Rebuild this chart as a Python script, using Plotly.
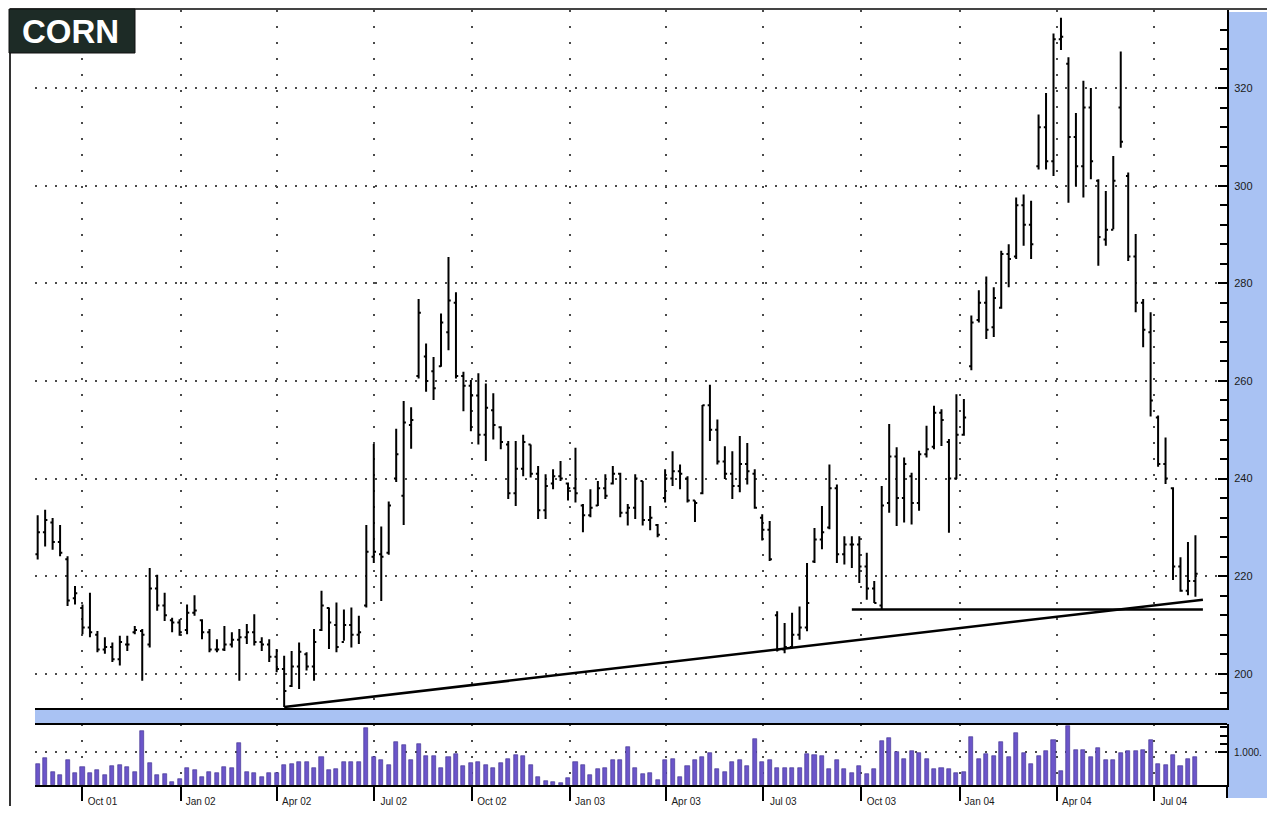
import pandas as pd
import plotly.graph_objects as go

# ---------------- data (weekly corn bars) ----------------
first_week = "2001-08-20"
n_weeks = 156

opens = [224.5, 229.0, 231.0, 227.0, 223.5, 215.5, 213.5, 209.5, 208.0, 205.0,
         205.5, 203.0, 206.0, 208.5, 208.8, 206.0, 217.5, 214.0, 211.0, 210.5,
         209.0, 212.5, 211.0, 208.5, 205.0, 205.0, 206.0, 207.0, 207.5, 208.5,
         206.5, 206.0, 203.5, 201.0, 197.5, 201.5, 204.0, 201.5, 209.0, 213.5,
         210.0, 206.5, 210.0, 208.0, 214.0, 224.0, 224.5, 224.8, 240.0, 236.5,
         251.0, 261.0, 265.0, 262.0, 263.0, 270.0, 276.0, 261.0, 259.0, 257.0,
         249.0, 254.0, 250.5, 247.0, 237.0, 242.0, 247.0, 241.0, 233.5, 239.0,
         240.5, 239.0, 238.0, 234.5, 232.5, 234.5, 238.0, 239.0, 241.0, 233.0,
         234.0, 239.5, 231.5, 230.5, 236.0, 240.0, 241.5, 240.0, 235.5, 237.0,
         255.0, 250.0, 243.5, 241.0, 238.5, 243.0, 241.0, 232.0, 229.5, 212.0,
         205.0, 205.5, 208.0, 209.5, 223.0, 227.5, 230.0, 238.0, 224.5, 226.5,
         226.5, 222.0, 217.5, 214.0, 235.0, 244.5, 236.0, 240.5, 235.0, 245.0,
         246.5, 253.5, 247.5, 240.0, 249.0, 263.0, 272.5, 276.0, 271.0, 275.0,
         286.0, 285.5, 296.0, 292.0, 304.0, 312.0, 305.0, 330.0, 325.0, 310.0,
         304.0, 316.0, 301.0, 289.0, 291.0, 316.0, 302.0, 285.5, 276.0, 270.0,
         252.5, 243.0, 238.0, 222.0, 217.0, 219.0]

highs = [232.5, 233.6, 231.9, 230.5, 224.1, 218.0, 214.2, 216.6, 208.8, 207.5,
         206.4, 207.8, 207.8, 209.8, 209.2, 221.7, 220.3, 216.6, 211.5, 211.2,
         214.2, 216.1, 211.2, 209.2, 207.1, 209.8, 208.5, 209.2, 210.2, 212.2,
         207.5, 207.1, 205.1, 203.7, 204.7, 206.4, 204.4, 209.2, 217.0, 213.6,
         214.6, 213.2, 213.6, 211.9, 230.5, 247.1, 230.2, 235.3, 250.2, 255.9,
         254.6, 276.8, 267.7, 264.9, 273.8, 285.4, 278.2, 261.9, 260.2, 261.6,
         259.5, 257.5, 250.7, 247.7, 247.7, 249.0, 247.0, 242.6, 240.9, 241.9,
         243.6, 239.2, 246.3, 234.8, 237.8, 239.5, 240.9, 242.6, 241.2, 234.8,
         240.9, 239.5, 234.4, 230.7, 241.9, 245.6, 242.9, 240.5, 235.5, 255.1,
         259.2, 252.1, 246.6, 245.6, 248.7, 247.3, 241.9, 232.7, 231.3, 212.8,
         210.4, 212.5, 213.8, 222.7, 229.9, 234.4, 242.9, 238.8, 228.2, 228.2,
         228.2, 224.8, 219.0, 238.5, 251.2, 246.4, 244.3, 241.2, 245.7, 250.8,
         254.9, 254.2, 248.1, 257.3, 256.3, 273.4, 278.6, 281.4, 279.2, 286.7,
         288.0, 297.6, 298.2, 296.9, 314.6, 319.0, 331.2, 334.4, 326.3, 314.9,
         321.5, 320.0, 301.3, 298.9, 306.1, 327.5, 302.7, 290.1, 276.8, 274.1,
         252.9, 248.4, 238.2, 223.9, 227.0, 228.4]

lows = [223.4, 226.1, 225.4, 224.1, 213.9, 214.2, 208.1, 207.5, 204.4, 204.1,
        202.4, 201.7, 204.7, 208.1, 198.6, 205.4, 212.9, 210.8, 208.5, 207.8,
        208.1, 211.9, 207.1, 204.4, 204.4, 204.7, 205.4, 198.6, 206.1, 205.8,
        204.7, 202.4, 200.3, 193.2, 197.3, 196.9, 200.7, 198.6, 208.8, 205.1,
        204.4, 206.8, 205.4, 206.1, 213.6, 222.7, 214.9, 224.4, 239.3, 230.5,
        246.1, 260.5, 257.8, 256.1, 262.9, 266.3, 260.5, 253.8, 249.7, 247.0,
        243.6, 248.0, 246.0, 235.8, 234.4, 240.5, 240.2, 231.7, 231.7, 237.8,
        239.5, 235.5, 235.1, 229.0, 232.1, 234.4, 235.8, 238.8, 232.1, 230.4,
        231.7, 230.4, 229.4, 228.0, 235.1, 238.5, 237.8, 235.1, 231.1, 236.8,
        247.7, 242.9, 239.9, 235.8, 237.2, 238.8, 233.8, 227.3, 223.1, 204.6,
        204.2, 205.3, 207.0, 208.7, 222.7, 225.5, 229.6, 222.7, 222.4, 221.7,
        218.6, 215.2, 214.5, 213.2, 233.0, 230.3, 231.0, 230.6, 233.4, 244.3,
        246.0, 246.7, 228.9, 239.9, 248.8, 262.2, 272.0, 268.6, 269.0, 274.8,
        279.2, 285.0, 287.7, 285.0, 303.3, 303.3, 302.0, 327.8, 296.5, 299.9,
        297.6, 301.3, 283.6, 287.7, 291.1, 307.8, 284.6, 274.1, 266.9, 252.7,
        242.4, 238.9, 219.2, 216.8, 216.1, 215.8]

closes = [229.0, 231.5, 227.0, 224.8, 215.0, 216.5, 209.5, 208.5, 205.0, 205.5,
          203.0, 206.5, 206.0, 209.0, 208.0, 217.5, 214.0, 212.0, 210.5, 208.5,
          212.5, 213.0, 208.5, 205.0, 205.0, 206.0, 207.0, 207.5, 208.5, 206.5,
          206.0, 203.5, 201.0, 196.5, 201.5, 204.5, 201.5, 206.5, 214.0, 210.5,
          205.5, 210.0, 208.0, 208.5, 225.0, 225.0, 224.0, 234.5, 245.0, 251.5,
          252.0, 274.0, 260.0, 258.5, 272.0, 276.5, 261.0, 259.0, 257.0, 249.0,
          254.5, 251.0, 247.5, 237.0, 242.0, 247.5, 241.0, 233.5, 238.5, 240.5,
          240.0, 238.0, 237.0, 232.5, 234.0, 238.0, 236.5, 241.0, 233.0, 234.0,
          240.0, 231.5, 232.0, 228.5, 240.0, 241.5, 241.0, 235.5, 235.0, 255.0,
          250.0, 243.5, 241.0, 238.5, 243.0, 241.5, 234.0, 229.5, 223.5, 205.0,
          205.5, 208.0, 209.5, 214.5, 227.5, 229.0, 238.0, 224.5, 226.5, 226.5,
          222.0, 217.5, 214.5, 234.5, 244.5, 236.0, 243.0, 235.0, 245.0, 246.0,
          253.5, 252.0, 240.0, 249.0, 252.5, 272.0, 276.0, 270.5, 277.0, 286.0,
          285.0, 296.0, 292.0, 288.0, 312.0, 305.0, 330.0, 330.5, 310.0, 304.0,
          316.0, 305.0, 289.5, 291.0, 301.0, 309.0, 285.5, 276.0, 270.5, 256.0,
          243.0, 240.0, 222.0, 217.0, 219.0, 220.5]

volume = [650, 820, 400, 290, 750, 350, 550, 370, 450, 300,
          570, 600, 540, 400, 1650, 670, 300, 320, 90, 170,
          520, 470, 250, 390, 350, 550, 530, 1270, 390, 360, 250, 350, 360,
          620, 640, 690, 690, 530, 850, 440, 480, 690, 690, 690, 1730,
          845, 755, 620, 1300, 1210, 755, 1230, 890, 890, 530,
          845, 940, 570, 660, 710, 620, 530, 660, 800, 910,
          870, 620, 250, 110, 80, 60, 200,
          710, 620, 300, 480, 530, 750, 750, 1160,
          505, 320, 376, 160, 750, 800, 250, 590, 750, 860,
          970, 480, 400, 700, 750, 590, 1400, 700, 750, 505,
          505, 505, 505, 935, 915, 890, 480, 750, 480, 376,
          590, 320, 480, 1340, 1430, 1000, 800, 1020, 970, 800,
          480, 505, 480, 376, 400, 1470, 800, 935, 890, 1290,
          860, 1580, 970, 645, 890, 1020, 1370, 430, 1800, 1075,
          1075, 860, 1130, 750, 750, 970, 1020, 1020, 1075, 1370,
          645, 610, 915, 570, 800, 860]

quarter_dates = ["2001-10-01", "2002-01-01", "2002-04-01", "2002-07-01",
                 "2002-10-01", "2003-01-01", "2003-04-01", "2003-07-01",
                 "2003-10-01", "2004-01-01", "2004-04-01", "2004-07-01"]
quarter_labels = ["Oct 01", "Jan 02", "Apr 02", "Jul 02", "Oct 02", "Jan 03",
                  "Apr 03", "Jul 03", "Oct 03", "Jan 04", "Apr 04", "Jul 04"]

price_ticks = [200, 220, 240, 260, 280, 300, 320]
volume_ticks = [1000]
volume_ticktext = ["1.000."]

trend_x = ["2002-04-08", "2004-08-16"]
trend_y = [193.2, 215.2]
support_x = ["2003-09-22", "2004-08-16"]
support_y = [213.2, 213.2]

assert len(opens) == len(highs) == len(lows) == len(closes) == len(volume) == n_weeks

dates = pd.date_range(first_week, periods=n_weeks, freq="7D")

# ---------------- layout geometry (screen pixels) ----------------
# the html page has an 8 px body margin, so the figure is shrunk by that amount
OFF = 8
W, H = 1275 - OFF, 813 - OFF
L, R, T, B = 35 - OFF, 48, 10 - OFF, 28
PW, PH = W - L - R, H - T - B      # 1192 x 775
X0, Y1 = 35, 785                   # screen position of plot left / bottom


def px(x):
    return (x - X0) / PW


def py(y):
    return (Y1 - y) / PH


price_dom = [py(708), 1.0]
vol_dom = [0.0, py(724)]

BLUE = "#a9c2f3"
GRID = "#4a4a4a"
FONT = "Liberation Sans, Arial, sans-serif"

fig = go.Figure()

fig.add_trace(go.Ohlc(
    x=dates, open=opens, high=highs, low=lows, close=closes,
    xaxis="x", yaxis="y",
    increasing=dict(line=dict(color="black", width=2)),
    decreasing=dict(line=dict(color="black", width=2)),
    tickwidth=0.3, showlegend=False, hoverinfo="skip",
))

fig.add_trace(go.Bar(
    x=dates, y=volume, xaxis="x2", yaxis="y2",
    marker=dict(color="#6b55c9", line=dict(color="#3b2d8c", width=0.6)),
    width=3.8 * 86400000, showlegend=False, hoverinfo="skip",
))

# trend line and support line
fig.add_trace(go.Scatter(x=trend_x, y=trend_y, mode="lines", xaxis="x", yaxis="y",
                         line=dict(color="black", width=2.5), showlegend=False, hoverinfo="skip"))
fig.add_trace(go.Scatter(x=support_x, y=support_y, mode="lines", xaxis="x", yaxis="y",
                         line=dict(color="black", width=2.5), showlegend=False, hoverinfo="skip"))

x_range = ["2001-08-17 12:00", "2004-09-07 14:00"]

fig.update_layout(
    width=W, height=H,
    margin=dict(l=L, r=R, t=T, b=B, pad=0, autoexpand=False),
    paper_bgcolor="white", plot_bgcolor="white",
    font=dict(family=FONT, color="#1a1a1a"),
    showlegend=False,
    bargap=0,
    xaxis=dict(
        domain=[0, 1], anchor="y", type="date", range=x_range,
        tickmode="array", tickvals=quarter_dates, showticklabels=False, ticks="",
        showgrid=True, gridcolor=GRID, gridwidth=1.5, griddash="2px,14px",
        showline=True, linecolor="black", linewidth=2, zeroline=False,
        rangeslider=dict(visible=False), fixedrange=True,
    ),
    xaxis2=dict(
        domain=[0, 1], anchor="y2", type="date", range=x_range, matches="x",
        tickmode="array", tickvals=quarter_dates, ticktext=quarter_labels,
        ticks="outside", ticklen=14, tickwidth=2, tickcolor="black",
        tickfont=dict(size=10, color="#1a1a1a", family=FONT),
        ticklabelshift=20, ticklabelstandoff=-8,
        showgrid=True, gridcolor=GRID, gridwidth=1.5, griddash="2px,14px",
        showline=True, linecolor="black", linewidth=2, zeroline=False,
    ),
    yaxis=dict(
        domain=price_dom, anchor="x", side="right", range=[193.0, 336.0],
        tickmode="array", tickvals=price_ticks,
        ticks="inside", ticklen=9, tickwidth=2, tickcolor="black",
        tickfont=dict(size=11, color="#1a1a1a", family=FONT),
        ticklabelstandoff=3,
        minor=dict(dtick=4, tick0=0, ticks="inside", ticklen=7, tickwidth=2,
                   tickcolor="black", showgrid=False),
        showgrid=True, gridcolor=GRID, gridwidth=1.5, griddash="2px,8px",
        showline=True, linecolor="black", linewidth=2, zeroline=False,
    ),
    yaxis3=dict(
        overlaying="y", anchor="x", side="left", range=[193.0, 336.0],
        tickmode="array", tickvals=price_ticks, showticklabels=False,
        ticks="outside", ticklen=4, tickwidth=3, tickcolor="#333",
        minor=dict(dtick=4, tick0=0, ticks="outside", ticklen=2, tickwidth=2,
                   tickcolor="#777", showgrid=False),
        showgrid=False, showline=False, zeroline=False,
    ),
    yaxis2=dict(
        domain=vol_dom, anchor="x2", side="right", range=[0, 1850],
        tickmode="array", tickvals=volume_ticks, ticktext=volume_ticktext,
        ticks="inside", ticklen=9, tickwidth=2, tickcolor="black",
        tickfont=dict(size=10, color="#1a1a1a", family=FONT),
        ticklabelstandoff=3,
        minor=dict(tickvals=[1250, 1500, 1750], ticks="inside", ticklen=7,
                   tickwidth=2, tickcolor="black", showgrid=False),
        showgrid=True, gridcolor=GRID, gridwidth=1.5, griddash="2px,8px",
        showline=True, linecolor="black", linewidth=2, zeroline=False,
    ),
)

shapes = [
    # light-blue right strip
    dict(type="rect", xref="paper", yref="paper", x0=px(1227), x1=px(1268),
         y0=py(798), y1=py(12), fillcolor=BLUE, line=dict(width=0), layer="below"),
    # light-blue band between the two panels
    dict(type="rect", xref="paper", yref="paper", x0=px(35), x1=px(1268),
         y0=py(724), y1=py(708), fillcolor=BLUE, line=dict(width=0), layer="below"),
    # top border of volume panel
    dict(type="line", xref="paper", yref="paper", x0=px(35), x1=px(1227),
         y0=py(724), y1=py(724), line=dict(color="black", width=2)),
    # right line below volume baseline
    dict(type="line", xref="paper", yref="paper", x0=px(1227), x1=px(1227),
         y0=py(785), y1=py(798), line=dict(color="black", width=2)),
    # outer frame: left and top
    dict(type="line", xref="paper", yref="paper", x0=px(10), x1=px(10),
         y0=py(9), y1=py(806), line=dict(color="#333", width=2)),
    dict(type="line", xref="paper", yref="paper", x0=px(10), x1=px(1268),
         y0=py(9), y1=py(9), line=dict(color="#444", width=2)),
    # title box
    dict(type="rect", xref="paper", yref="paper", x0=px(9), x1=px(135),
         y0=py(53), y1=py(9), fillcolor="#1d2b26", line=dict(color="#111", width=1),
         layer="above"),
]
fig.update_layout(shapes=shapes)

fig.add_annotation(
    x=px(70), y=py(31), xref="paper", yref="paper", text="<b>CORN</b>",
    showarrow=False, xanchor="center", yanchor="middle",
    font=dict(family=FONT, size=33, color="white"),
)

fig.write_html("out.html")
